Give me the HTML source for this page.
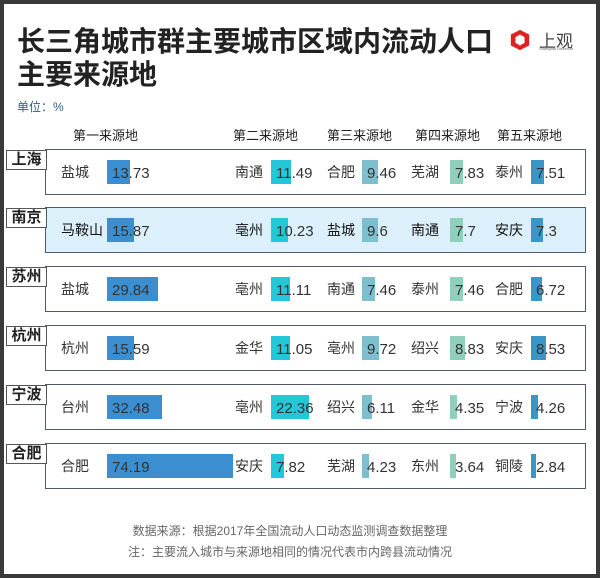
<!DOCTYPE html>
<html><head><meta charset="utf-8"><style>
*{margin:0;padding:0;box-sizing:border-box}
body{width:600px;height:578px;background:#3a3a3a;position:relative;font-family:"Liberation Sans","Noto Sans CJK SC",sans-serif;overflow:hidden}
#w{position:absolute;left:4px;top:4px;width:592px;height:570px;background:#fff}
.a{position:absolute;white-space:nowrap}
.t{font-size:28px;font-weight:bold;color:#222;left:17px;line-height:32px}
.h{font-size:13px;color:#222;top:128px;line-height:16px}
.row{position:absolute;left:45px;width:541px;height:46px;border:1.5px solid #4d5b6b;background:#fff}
.lab{position:absolute;left:6px;width:41px;height:20px;border:1px solid #555;background:#fff;font-size:15px;font-weight:bold;text-align:center;line-height:18px;color:#222}
.n{position:absolute;font-size:14px;color:#333;line-height:24px}
.b{position:absolute;height:24px}
.v{position:absolute;font-size:15px;color:#333;line-height:22px}
.f{font-size:12px;color:#666;width:600px;text-align:center;left:-10px;line-height:15px}
</style></head><body><div id="w"></div>
<div class="a t" style="top:26px">长三角城市群主要城市区域内流动人口</div>
<div class="a t" style="top:59px">主要来源地</div>
<svg class="a" style="left:509px;top:29px" width="22" height="22" viewBox="0 0 24 24"><polygon points="12,1 22,6 22,18 12,23 2,18 2,6" fill="#d22"/><polygon points="12,6 17,9 17,15 12,18 7,15 7,9" fill="#fff"/></svg>
<div class="a" style="left:539px;top:27px;font-size:17px;color:#444">上观</div>
<div class="a" style="left:539px;top:46px;font-size:4px;color:#666">Shanghai Observer</div>
<div class="a" style="left:17px;top:98px;font-size:12px;color:#2a5d8a">单位：%</div>
<div class="a h" style="left:73px">第一来源地</div>
<div class="a h" style="left:233px">第二来源地</div>
<div class="a h" style="left:327px">第三来源地</div>
<div class="a h" style="left:415px">第四来源地</div>
<div class="a h" style="left:497px">第五来源地</div>
<div id="rows"></div>
<div class="a f" style="top:524px">数据来源：根据2017年全国流动人口动态监测调查数据整理</div>
<div class="a f" style="top:545px">注：主要流入城市与来源地相同的情况代表市内跨县流动情况</div>
<script>
var D=[["上海",149,[["盐城",13.73],["南通",11.49],["合肥",9.46],["芜湖",7.83],["泰州",7.51]]],
["南京",207,[["马鞍山",15.87],["亳州",10.23],["盐城",9.6],["南通",7.7],["安庆",7.3]]],
["苏州",266,[["盐城",29.84],["亳州",11.11],["南通",7.46],["泰州",7.46],["合肥",6.72]]],
["杭州",325,[["杭州",15.59],["金华",11.05],["亳州",9.72],["绍兴",8.83],["安庆",8.53]]],
["宁波",384,[["台州",32.48],["亳州",22.36],["绍兴",6.11],["金华",4.35],["宁波",4.26]]],
["合肥",443,[["合肥",74.19],["安庆",7.82],["芜湖",4.23],["东州",3.64],["铜陵",2.84]]]];
var NX=[61,235,327,411,495],BX=[107,271,362,450,531],C=["#3b8fd0","#22c8d8","#7cc0cf","#8dd0bb","#3a96c6"];
var h="";
D.forEach(function(r,i){var bg=i==1?"#dcf0fb":"#fff";
h+='<div class="row" style="top:'+r[1]+'px;background:'+bg+'"></div>';
h+='<div class="lab" style="top:'+(r[1]+1)+'px">'+r[0]+'</div>';
r[2].forEach(function(c,j){var y=r[1]+11;
h+='<div class="a n" style="left:'+NX[j]+'px;top:'+y+'px;'+(i==1?'color:#111':'')+'">'+c[0]+'</div>';
h+='<div class="a b" style="left:'+BX[j]+'px;top:'+y+'px;width:'+Math.max(4,c[1]*1.7)+'px;background:'+C[j]+'"></div>';
h+='<div class="a v" style="left:'+(BX[j]+5)+'px;top:'+(y+3)+'px">'+c[1]+'</div>';});});
document.getElementById("rows").outerHTML=h;
</script>
</body></html>
